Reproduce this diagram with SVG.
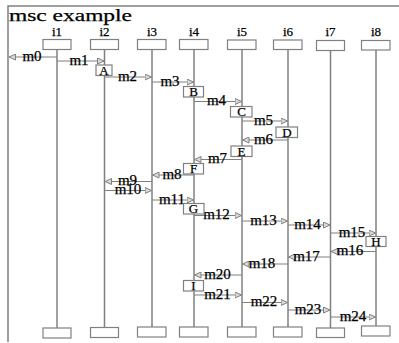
<svg xmlns="http://www.w3.org/2000/svg" width="399" height="343" viewBox="0 0 399 343" font-family="'Liberation Serif', 'Times New Roman', serif">
<defs>
<marker id="ah" markerUnits="userSpaceOnUse" markerWidth="8" markerHeight="7" refX="7" refY="3.5" orient="auto">
<path d="M0.5,0.5 L7,3.5 L0.5,6.5 z" fill="#d8d8d8" stroke="#808080" stroke-width="1"/>
</marker>
</defs>
<style>
text{font-family:'Liberation Serif',serif;fill:#000;stroke:#000;stroke-width:0.25}
.frame{stroke:#808080;stroke-width:1.5;fill:none}
.life{stroke:#808080;stroke-width:1.5}
.hd{fill:#fff;stroke:#808080;stroke-width:1.2}
.msg{stroke:#808080;stroke-width:1.2;marker-end:url(#ah)}
.ml{font-size:15px;text-anchor:middle}
.il{font-size:13px;text-anchor:middle}
.ac{font-size:13px;text-anchor:middle}
</style>
<rect width="399" height="343" fill="#fff"/>
<g id="frame">
<path class="frame" d="M399,6 H8 V342"/>
<text x="9" y="20.5" font-size="17" textLength="123" lengthAdjust="spacingAndGlyphs">msc example</text>
</g>
<g id="i1"><line class="life" x1="57" y1="49" x2="57" y2="328" stroke="#555"/><rect class="hd" x="43" y="39.5" width="28" height="10"/><rect class="hd" x="43" y="328" width="28" height="10"/><text class="il" x="57" y="36">i1</text></g>
<g id="i2"><line class="life" x1="104.5" y1="49" x2="104.5" y2="327"/><rect class="hd" x="90.5" y="39.5" width="28" height="10"/><rect class="hd" x="90.5" y="327.5" width="28" height="10"/><text class="il" x="104.5" y="36">i2</text></g>
<g id="i3"><line class="life" x1="152" y1="49" x2="152" y2="327"/><rect class="hd" x="137.5" y="39.5" width="28.5" height="10"/><rect class="hd" x="137.5" y="327" width="28.5" height="10"/><text class="il" x="152" y="36">i3</text></g>
<g id="i4"><line class="life" x1="194" y1="49" x2="194" y2="327"/><rect class="hd" x="179.5" y="39.5" width="28.5" height="10"/><rect class="hd" x="179.5" y="327" width="28.5" height="10"/><text class="il" x="194" y="36">i4</text></g>
<g id="i5"><line class="life" x1="242" y1="49" x2="242" y2="327"/><rect class="hd" x="227.5" y="40" width="28.5" height="9.5"/><rect class="hd" x="227.5" y="327" width="28.5" height="10"/><text class="il" x="242" y="36">i5</text></g>
<g id="i6"><line class="life" x1="288" y1="49" x2="288" y2="327"/><rect class="hd" x="273.5" y="40" width="28.5" height="9.5"/><rect class="hd" x="273.5" y="327" width="28.5" height="10"/><text class="il" x="288" y="36">i6</text></g>
<g id="i7"><line class="life" x1="330.5" y1="50" x2="330.5" y2="328"/><rect class="hd" x="316.5" y="40.5" width="28" height="10"/><rect class="hd" x="316.5" y="328" width="28" height="9.5"/><text class="il" x="330.5" y="36">i7</text></g>
<g id="i8"><line class="life" x1="376" y1="50" x2="376" y2="326"/><rect class="hd" x="361.5" y="40.5" width="28.5" height="9.5"/><rect class="hd" x="361.5" y="326" width="28.5" height="10"/><text class="il" x="376" y="36">i8</text></g>
<g id="connectors">
<line class="msg" x1="57" y1="57" x2="9" y2="57"/>
<line class="msg" x1="57" y1="61" x2="104" y2="61"/>
<line class="msg" x1="104.5" y1="77" x2="151.5" y2="77"/>
<line class="msg" x1="152" y1="82" x2="193.5" y2="82"/>
<line class="msg" x1="194" y1="101.5" x2="241.5" y2="101.5"/>
<line class="msg" x1="242" y1="121" x2="287.5" y2="121"/>
<line class="msg" x1="288" y1="140" x2="242.5" y2="140"/>
<line class="msg" x1="242" y1="159.5" x2="194.5" y2="159.5"/>
<line class="msg" x1="194" y1="175" x2="152.5" y2="175"/>
<line class="msg" x1="152" y1="181.5" x2="105" y2="181.5"/>
<line class="msg" x1="104.5" y1="190.5" x2="151.5" y2="190.5"/>
<line class="msg" x1="152" y1="200" x2="193.5" y2="200"/>
<line class="msg" x1="194" y1="215.5" x2="241.5" y2="215.5"/>
<line class="msg" x1="242" y1="221" x2="287.5" y2="221"/>
<line class="msg" x1="288" y1="225" x2="330" y2="225"/>
<line class="msg" x1="330.5" y1="233" x2="375.5" y2="233"/>
<line class="msg" x1="376" y1="251.5" x2="331" y2="251.5"/>
<line class="msg" x1="330.5" y1="257" x2="288.5" y2="257" stroke-width="2" stroke="#a0a0a0"/>
<line class="msg" x1="288" y1="264" x2="242.5" y2="264"/>
<line class="msg" x1="242" y1="275" x2="194.5" y2="275"/>
<line class="msg" x1="194" y1="295" x2="241.5" y2="295"/>
<line class="msg" x1="242" y1="302.5" x2="287.5" y2="302.5"/>
<line class="msg" x1="288" y1="310" x2="330" y2="310"/>
<line class="msg" x1="330.5" y1="317" x2="375.5" y2="317"/>
</g>
<g id="labels">
<text class="ml" x="32" y="60.5">m0</text>
<text class="ml" x="79" y="64.5">m1</text>
<text class="ml" x="127.5" y="80.5">m2</text>
<text class="ml" x="170" y="85.5">m3</text>
<text class="ml" x="216.5" y="105">m4</text>
<text class="ml" x="263.5" y="124.5">m5</text>
<text class="ml" x="263.5" y="143.5">m6</text>
<text class="ml" x="217.5" y="163">m7</text>
<text class="ml" x="172" y="178.5">m8</text>
<text class="ml" x="127.5" y="184.5" font-size="14">m9</text>
<text class="ml" x="128" y="194" font-size="14">m10</text>
<text class="ml" x="172" y="203.5">m11</text>
<text class="ml" x="216.5" y="219">m12</text>
<text class="ml" x="263.5" y="224.5">m13</text>
<text class="ml" x="307.5" y="228.5">m14</text>
<text class="ml" x="352" y="236.5">m15</text>
<text class="ml" x="350" y="255">m16</text>
<text class="ml" x="306.5" y="260.5">m17</text>
<text class="ml" x="262" y="267.5">m18</text>
<text class="ml" x="217.5" y="278.5">m20</text>
<text class="ml" x="217.5" y="298.5">m21</text>
<text class="ml" x="264" y="306">m22</text>
<text class="ml" x="308" y="313.5">m23</text>
<text class="ml" x="353" y="320.5">m24</text>
</g>
<g id="A"><rect class="hd" x="96" y="65" width="16" height="10.5"/><text class="ac" x="104" y="74.5">A</text></g>
<g id="B"><rect class="hd" x="183.5" y="86.5" width="20" height="10.5"/><text class="ac" x="193.5" y="96">B</text></g>
<g id="C"><rect class="hd" x="230.5" y="106.5" width="21.5" height="10.5"/><text class="ac" x="241.5" y="116">C</text></g>
<g id="D"><rect class="hd" x="276" y="127" width="21.5" height="10.5"/><text class="ac" x="287" y="136.5">D</text></g>
<g id="E"><rect class="hd" x="231" y="146" width="21" height="10.5"/><text class="ac" x="241.5" y="155.5">E</text></g>
<g id="F"><rect class="hd" x="183.5" y="163.5" width="20" height="10.5"/><text class="ac" x="193.5" y="173">F</text></g>
<g id="G"><rect class="hd" x="183.5" y="203.5" width="20.5" height="10.5"/><text class="ac" x="193.5" y="213">G</text></g>
<g id="H"><rect class="hd" x="366" y="236.5" width="20" height="10"/><text class="ac" x="376" y="245.5">H</text></g>
<g id="I"><rect class="hd" x="183.5" y="280.5" width="20" height="10.5"/><text class="ac" x="193.5" y="290">I</text></g>
</svg>
